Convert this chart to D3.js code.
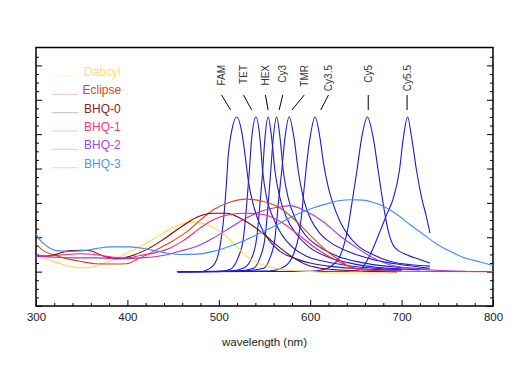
<!DOCTYPE html>
<html lang="en">
<head>
  <meta charset="UTF-8">
  <title>Quencher absorbance and dye emission</title>
  <script src="https://d3js.org/d3.v7.min.js"></script>
  <style>
    body {
      margin: 0;
      background: #fff;
      font-family: "Liberation Sans", Arial, sans-serif;
    }
    .axis line {
      stroke: #000;
    }
    .axis text {
      font-size: 11.5px;
      fill: #222;
    }
    .curve {
      fill: none;
      stroke-width: 1.1;
    }
  </style>
</head>
<body>
  <script>
    // x tick labels
    const xTicks = [300, 400, 500, 600, 700, 800];

    // quenchers (absorbance), [wavelength, value]
    const quenchers = ["Dabcyl", "Eclipse", "BHQ-0", "BHQ-1", "BHQ-2", "BHQ-3"];
    const dabcyl = [[300,0.45],[315,0.33],[330,0.2],[341,0.13],[352,0.11],[361,0.13],[370,0.2],[385,0.35],[403,0.59],[421,0.83],[439,1.12],[457,1.37],[472,1.44],[487,1.37],[501,1.17],[516,0.83],[530,0.45],[545,0.23],[560,0.11],[578,0.04],[603,0],[622,-0.04],[695,-0.04]];
    const eclipse = [[300,0.8],[308,0.61],[319,0.49],[330,0.4],[348,0.3],[366,0.23],[385,0.22],[399,0.23],[414,0.4],[432,0.64],[450,0.9],[468,1.22],[476,1.41],[494,1.8],[512,2.02],[530,2.11],[549,2.04],[567,1.85],[585,1.46],[603,0.98],[622,0.52],[633,0.32],[644,0.13],[669,0.03],[695,0]];
    const bhq0 = [[300,0.45],[312,0.45],[323,0.51],[337,0.61],[352,0.62],[361,0.6],[370,0.49],[381,0.4],[392,0.38],[403,0.45],[421,0.64],[439,0.93],[457,1.27],[468,1.46],[476,1.58],[494,1.7],[509,1.7],[523,1.56],[538,1.32],[552,1.03],[567,0.69],[582,0.4],[596,0.2],[611,0.1],[625,0.06],[650,0.02],[695,0]];
    const bhq1 = [[300,0.48],[312,0.45],[330,0.49],[348,0.52],[366,0.49],[385,0.42],[399,0.4],[414,0.47],[432,0.56],[447,0.69],[458,0.85],[468,1.03],[476,1.2],[494,1.51],[512,1.66],[530,1.7],[549,1.66],[567,1.46],[585,1.12],[603,0.74],[622,0.42],[640,0.18],[660,0.06],[690,0.01],[800,0]];
    const bhq2 = [[300,0.45],[320,0.42],[348,0.4],[370,0.4],[390,0.37],[414,0.4],[439,0.47],[458,0.6],[476,0.74],[494,0.98],[512,1.27],[530,1.56],[549,1.78],[567,1.88],[578,1.92],[596,1.75],[614,1.46],[633,1.03],[651,0.69],[669,0.4],[687,0.2],[724,0.06],[770,0.01]];
    const bhq3 = [[300,1.1],[304,0.93],[312,0.74],[323,0.61],[337,0.59],[352,0.61],[366,0.67],[381,0.72],[403,0.72],[421,0.66],[439,0.56],[458,0.5],[476,0.51],[494,0.59],[512,0.74],[530,0.93],[549,1.17],[567,1.41],[585,1.66],[603,1.85],[622,2.0],[633,2.07],[644,2.09],[658,2.08],[669,2.01],[680,1.9],[695,1.66],[709,1.37],[724,1.08],[738,0.81],[753,0.59],[767,0.42],[786,0.28],[800,0.18]];

    // fluorophores (emission), [wavelength, value]
    const dyes = ["FAM", "TET", "HEX", "Cy3", "TMR", "Cy3.5", "Cy5", "Cy5.5"];
    const fam = [[455,0],[482,0],[488,0.06],[496,0.25],[501,0.69],[505,1.46],[508,2.43],[510.4,3.4],[514,4.08],[519.6,4.5],[525,4.08],[528.7,3.4],[532.4,2.62],[537.7,1.95],[545,1.37],[556,0.88],[567,0.59],[581.5,0.4],[600,0.25],[620,0.16],[650,0.09],[680,0.05],[700,0.04]];
    const tet = [[455,0],[500,0],[512,0.06],[521,0.4],[527,0.98],[530.5,1.95],[533.4,2.92],[536,3.89],[540.7,4.5],[545,3.89],[548,2.92],[552.4,2.14],[559.6,1.56],[568.8,1.08],[581.5,0.69],[596,0.45],[615,0.3],[640,0.18],[670,0.1],[700,0.06]];
    const hex = [[455,0],[510,0.01],[527,0.1],[536,0.4],[541.5,0.98],[545,1.95],[548,2.92],[550.5,3.89],[554,4.5],[557.8,3.89],[561.5,2.92],[567,2.14],[574.3,1.56],[585.3,1.08],[600,0.69],[620,0.42],[645,0.24],[675,0.12],[705,0.07],[720,0.05]];
    const cy3 = [[455,0],[520,0.02],[538,0.1],[545,0.4],[550.5,0.98],[554,1.95],[556.8,2.92],[559.6,3.89],[563.3,4.5],[567,3.89],[570.6,2.92],[576,2.14],[583.4,1.56],[594.3,1.08],[610,0.72],[630,0.45],[655,0.27],[690,0.14],[730,0.07]];
    const tmr = [[455,0],[525,0.02],[549,0.1],[556,0.4],[561.5,0.98],[565,1.95],[568.8,2.92],[572.4,3.89],[577,4.5],[582.3,3.89],[587,2.92],[592.5,2.14],[600,1.56],[611,1.1],[622,0.85],[645,0.55],[669,0.35],[700,0.2],[731,0.1]];
    const cy35 = [[455,0],[555,0.02],[572,0.15],[581.5,0.49],[587,0.98],[590.7,1.66],[593,2.33],[596,3.11],[599.8,3.89],[605.3,4.5],[610.7,3.89],[614.3,3.2],[620,2.43],[625.3,1.95],[632.6,1.46],[640,1.12],[651,0.78],[669,0.49],[687,0.3],[710,0.2],[731,0.16]];
    const cy5 = [[455,0],[600,0.01],[615,0.06],[625,0.2],[632.6,0.45],[636,0.69],[640.6,1.17],[645.4,1.95],[651,2.92],[656.3,3.89],[662.5,4.5],[669,3.89],[674.5,2.92],[680,1.95],[685.5,1.17],[692.8,0.69],[705.6,0.49],[720,0.35],[731,0.25]];
    const cy55 = [[455,0],[640,0.01],[654.5,0.06],[661.8,0.3],[669,0.69],[676.4,1.17],[683.7,1.66],[691,2.14],[697.5,2.92],[701.9,3.89],[706.6,4.5],[711,3.89],[716.5,2.92],[722,2.14],[727.5,1.56],[731,1.12]];

    const quencherData = [dabcyl, eclipse, bhq0, bhq1, bhq2, bhq3];
    const dyeData = [fam, tet, hex, cy3, tmr, cy35, cy5, cy55];
    const quencherColors = ["#ffd84f", "#e04510", "#800000", "#ff2070", "#a832e0", "#3a8cff"];
    const legendTextColors = ["#ffdc70", "#dd4418", "#8a2222", "#ff3377", "#a844e4", "#4d92ff"];
    const dyeColor = "#1a1ad8";

    const W = 529, H = 376;
    const m = { left: 36, right: 493, top: 47.5, bottom: 306 };

    const svg = d3.select("body").append("svg")
      .attr("width", W)
      .attr("height", H);

    const x = d3.scaleLinear().domain([300, 800]).range([m.left, m.right]);
    const y = d3.scaleLinear().domain([-1, 6.52]).range([m.bottom, m.top]);

    // ticks (inward)
    const xMinor = d3.range(300, 801, 20).filter(v => v % 100 !== 0);
    const yMajor = d3.range(-1, 6.5, 1);
    const yMinor = d3.range(-1, 6.5, 0.25).filter(v => v % 1 !== 0);

    svg.append("g").attr("class", "axis")
      .attr("transform", `translate(0,${m.bottom})`)
      .call(d3.axisBottom(x).tickValues(xTicks).tickSize(-6).tickPadding(7).tickFormat(d3.format("d")));
    svg.append("g").attr("class", "axis")
      .attr("transform", `translate(0,${m.bottom})`)
      .call(d3.axisBottom(x).tickValues(xMinor).tickSize(-3).tickFormat(""));

    [[d3.axisLeft, m.left], [d3.axisRight, m.right]].forEach(([ax, pos]) => {
      svg.append("g").attr("class", "axis")
        .attr("transform", `translate(${pos},0)`)
        .call(ax(y).tickValues(yMajor).tickSize(-6).tickFormat(""));
      svg.append("g").attr("class", "axis")
        .attr("transform", `translate(${pos},0)`)
        .call(ax(y).tickValues(yMinor).tickSize(-3).tickFormat(""));
    });
    svg.selectAll(".axis path").remove();

    // frame
    svg.append("rect")
      .attr("x", m.left).attr("y", m.top)
      .attr("width", m.right - m.left).attr("height", m.bottom - m.top)
      .attr("fill", "none").attr("stroke", "#000").attr("stroke-width", 1.5);

    // axis title
    svg.append("text")
      .attr("x", (m.left + m.right) / 2)
      .attr("y", 346)
      .attr("text-anchor", "middle")
      .attr("font-size", "11.5px")
      .attr("fill", "#222")
      .text("wavelength (nm)");

    const line = d3.line()
      .x(d => x(d[0]))
      .y(d => y(d[1]))
      .curve(d3.curveMonotoneX);

    const plot = svg.append("g");

    // emission curves
    plot.selectAll(".dye")
      .data(dyeData)
      .join("path")
        .attr("class", "curve dye")
        .attr("stroke", dyeColor)
        .attr("d", line);

    // absorbance curves
    plot.selectAll(".quencher")
      .data(quencherData)
      .join("path")
        .attr("class", "curve quencher")
        .attr("stroke", (d, i) => quencherColors[i])
        .attr("d", line);

    // dye labels with leader lines (label wavelength, tip wavelength)
    const labelAt = [503, 527, 551, 570, 593.5, 620, 663.5, 706];
    const tipAt = [513, 536, 554, 566, 580, 611.5, 663.5, 706];
    const g = svg.append("g");
    dyes.forEach((name, i) => {
      g.append("text")
        .attr("transform", `translate(${x(labelAt[i])},65) rotate(-90)`)
        .attr("text-anchor", "end")
        .attr("dy", "0.35em")
        .attr("font-size", "10px")
        .attr("fill", "#333")
        .text(name);
      g.append("line")
        .attr("x1", x(labelAt[i]))
        .attr("y1", 95)
        .attr("x2", x(tipAt[i]))
        .attr("y2", 110)
        .attr("stroke", "#000")
        .attr("stroke-width", 1);
    });

    // legend
    const legend = svg.append("g");
    quenchers.forEach((name, i) => {
      const ly = 76 + i * 18.35;
      legend.append("line")
        .attr("x1", 52).attr("x2", 78)
        .attr("y1", ly).attr("y2", ly)
        .attr("stroke", quencherColors[i])
        .attr("stroke-opacity", 0.3)
        .attr("stroke-width", 1);
      legend.append("text")
        .attr("x", i === 1 ? 82.5 : 84)
        .attr("y", ly)
        .attr("font-size", "12px")
        .attr("fill", legendTextColors[i])
        .text(name);
    });
  </script>
</body>
</html>
